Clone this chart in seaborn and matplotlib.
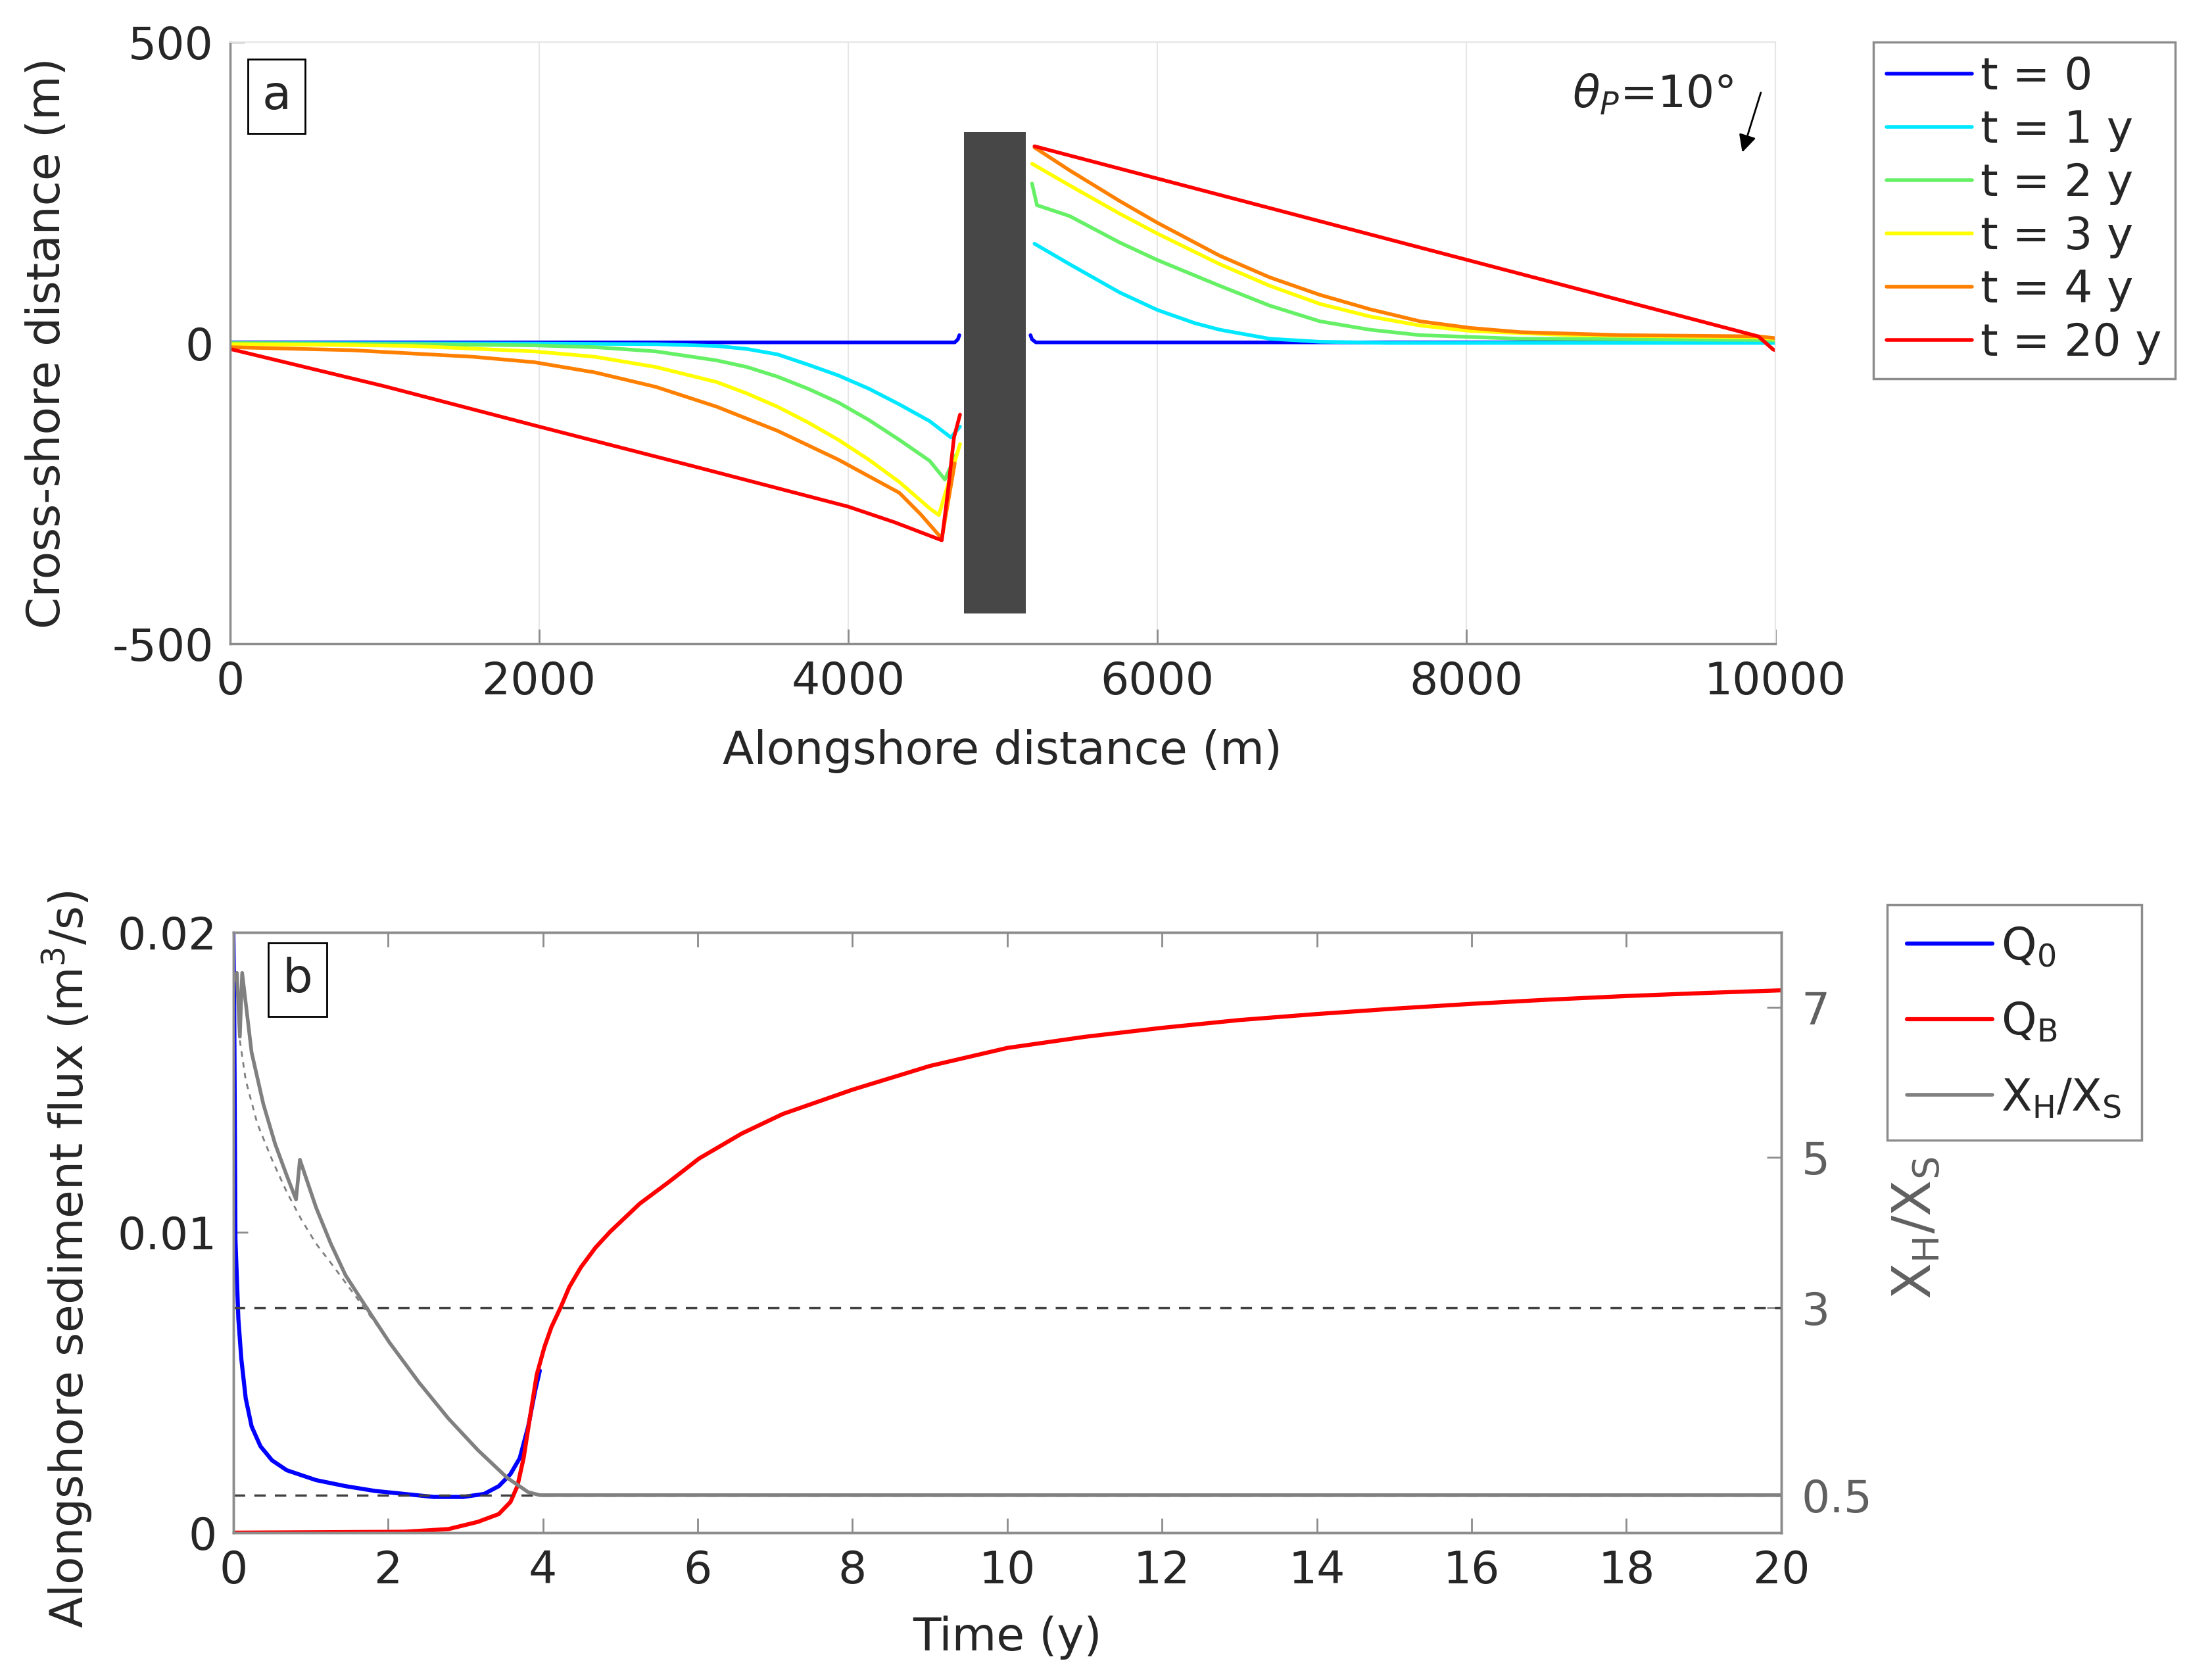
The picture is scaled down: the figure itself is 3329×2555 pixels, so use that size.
import matplotlib
matplotlib.use("Agg")
import matplotlib.pyplot as plt
import seaborn as sns

""" ================= Data ================= """
# panel a: shoreline position (m) left and right of the groin
shore_labels = ['t = 0', 't = 1 y', 't = 2 y', 't = 3 y', 't = 4 y', 't = 20 y']
shore_colors = ['#0000ff', '#00e8ff', '#66f066', '#ffff00', '#ff8000', '#ff0000']

t0_left_x = [0, 4690, 4710, 4720]
t0_left_y = [1, 1, 6, 13]
t1_left_x = [0, 2000, 2756, 3150, 3346, 3543, 3740, 3937, 4134, 4331, 4528, 4665, 4724]
t1_left_y = [0, -1, -2, -5, -10, -19, -36, -54, -76, -102, -130, -157, -139]
t2_left_x = [0, 1200, 1969, 2362, 2756, 3150, 3346, 3543, 3740, 3937, 4134, 4331,
             4528, 4626, 4700]
t2_left_y = [0, -2, -4, -7, -14, -29, -40, -56, -76, -99, -128, -161, -196, -227, -185]
t3_left_x = [0, 600, 1181, 1969, 2362, 2756, 3150, 3346, 3543, 3740, 3937, 4134,
             4331, 4528, 4587, 4724]
t3_left_y = [-2, -3, -5, -14, -23, -40, -65, -84, -106, -132, -161, -194, -231,
             -275, -286, -168]
t4_left_x = [0, 787, 1575, 1969, 2362, 2756, 3150, 3543, 3937, 4331, 4470, 4606, 4690]
t4_left_y = [-7, -12, -23, -32, -49, -73, -106, -146, -194, -249, -285, -325, -200]
t20_left_x = [0, 1000, 2000, 3000, 4000, 4300, 4606, 4646, 4685, 4724]
t20_left_y = [-10, -72, -139, -205, -272, -298, -328, -246, -157, -119]

t0_right_x = [5180, 5190, 5215, 10000]
t0_right_y = [13, 6, 1, 1]
t1_right_x = [5206, 5433, 5757, 6000, 6243, 6405, 6729, 7053, 7500, 10000]
t1_right_y = [165, 131, 84, 55, 33, 22, 7, 2, 0, 0]
t2_right_x = [5190, 5222, 5433, 5757, 6000, 6405, 6729, 7053, 7378, 7702, 8350, 9890, 10000]
t2_right_y = [265, 229, 211, 167, 138, 95, 62, 36, 22, 13, 7, 5, 4]
t3_right_x = [5190, 5433, 5757, 6000, 6405, 6729, 7053, 7378, 7702, 8026, 8674, 9890, 10000]
t3_right_y = [298, 262, 215, 182, 131, 95, 65, 44, 29, 20, 13, 9, 7]
t4_right_x = [5206, 5433, 5757, 6000, 6405, 6729, 7053, 7378, 7702, 8026, 8350, 9000,
              9890, 10000]
t4_right_y = [325, 287, 236, 200, 145, 109, 80, 56, 36, 25, 18, 13, 11, 8]
t20_right_x = [5206, 9890, 9987, 10000]
t20_right_y = [327, 11, -11, -12]

# groin
groin_x = [4750, 5150]
groin_bottom = -450
groin_top = 350

# panel b: fluxes (m3/s) and ratio XH/XS
time_q0 = [0, 0.01, 0.027, 0.065, 0.103, 0.16, 0.236, 0.35, 0.5, 0.69, 1.07, 1.45,
           1.83, 2.21, 2.59, 2.97, 3.24, 3.43, 3.58, 3.7, 3.81, 3.9, 3.96]
q0 = [0.02, 0.018, 0.00978, 0.00712, 0.00579, 0.00447, 0.00354, 0.00288, 0.00241,
      0.00208, 0.00175, 0.00155, 0.00139, 0.00129, 0.00119, 0.00119, 0.00129,
      0.00155, 0.00195, 0.00248, 0.00354, 0.00473, 0.0054]

time_qb = [0, 2.21, 2.78, 3.16, 3.43, 3.58, 3.67, 3.75, 3.83, 3.92, 4.02, 4.11, 4.23,
           4.34, 4.49, 4.68, 4.87, 5.25, 5.63, 6.02, 6.57, 7.1, 8.0, 9.0, 10, 11, 12,
           13, 14, 15, 16, 17, 18, 19, 20]
qb = [0, 0.00003, 0.00012, 0.00036, 0.00062, 0.00102, 0.00155, 0.00248, 0.0038,
      0.00526, 0.00619, 0.00685, 0.00751, 0.00818, 0.00884, 0.0095, 0.01003,
      0.01096, 0.01169, 0.01247, 0.0133, 0.01395, 0.01476, 0.01555, 0.01615, 0.01652,
      0.01682, 0.01708, 0.01728, 0.01746, 0.01762, 0.01776, 0.01788, 0.01798, 0.01807]

time_ratio = [0, 0.046, 0.084, 0.114, 0.236, 0.388, 0.54, 0.69, 0.81, 0.86, 1.07,
              1.26, 1.45, 1.72, 2.02, 2.4, 2.78, 3.16, 3.54, 3.81, 3.96, 20]
ratio = [7.35, 7.46, 6.61, 7.46, 6.4, 5.71, 5.18, 4.76, 4.44, 4.97, 4.33, 3.85,
         3.43, 3.0, 2.53, 2.0, 1.52, 1.1, 0.73, 0.54, 0.5, 0.5]

time_ratio_ref = [0.084, 0.16, 0.31, 0.5, 0.69, 0.88, 1.07, 1.3, 1.53, 1.76, 2.02]
ratio_ref = [6.56, 6.03, 5.45, 4.97, 4.54, 4.17, 3.85, 3.54, 3.22, 2.9, 2.53]

ratio_thresholds = [3, 0.5]

""" ================= Style ================= """
sns.set_theme(style="white")
plt.rcParams['font.family'] = ['DejaVu Sans']
plt.rcParams['mathtext.fontset'] = 'dejavusans'
plt.rcParams['axes.unicode_minus'] = False
plt.rcParams['lines.solid_joinstyle'] = 'round'

FS = 49
SPINE = '#8c8c8c'
GRAYTXT = '#606060'

fig = plt.figure(figsize=(33.29, 25.55), dpi=100)
ax1 = fig.add_axes([0.1051, 0.6168, 0.7059, 0.3581])
ax2 = fig.add_axes([0.1066, 0.0877, 0.7071, 0.3573])

""" ================= Panel a ================= """
left_x = [t0_left_x, t1_left_x, t2_left_x, t3_left_x, t4_left_x, t20_left_x]
left_y = [t0_left_y, t1_left_y, t2_left_y, t3_left_y, t4_left_y, t20_left_y]
right_x = [t0_right_x, t1_right_x, t2_right_x, t3_right_x, t4_right_x, t20_right_x]
right_y = [t0_right_y, t1_right_y, t2_right_y, t3_right_y, t4_right_y, t20_right_y]

for lx, ly, rx, ry, lab, col in zip(left_x, left_y, right_x, right_y,
                                    shore_labels, shore_colors):
    sns.lineplot(x=lx, y=ly, ax=ax1, color=col, lw=4, sort=False,
                 estimator=None, label=lab)
    sns.lineplot(x=rx, y=ry, ax=ax1, color=col, lw=4, sort=False,
                 estimator=None, label='_nolegend_')

ax1.fill_between(groin_x, groin_bottom, groin_top, color='#474747', lw=0, zorder=5)

ax1.set_xlim(0, 10000)
ax1.set_ylim(-500, 500)
ax1.set_xticks([0, 2000, 4000, 6000, 8000, 10000])
ax1.set_yticks([-500, 0, 500])
ax1.xaxis.grid(True, color='#e6e6e6', lw=1.5)
ax1.set_axisbelow(True)
for s in ['left', 'bottom']:
    ax1.spines[s].set_color(SPINE)
    ax1.spines[s].set_linewidth(2.5)
for s in ['top', 'right']:
    ax1.spines[s].set_color('#e6e6e6')
    ax1.spines[s].set_linewidth(1.5)
ax1.tick_params(direction='in', length=16, width=2, color=SPINE,
                labelsize=FS, pad=18, bottom=True, left=True)
ax1.set_xlabel('Alongshore distance (m)', fontsize=50)
ax1.set_ylabel('Cross-shore distance (m)', fontsize=50)
ax1.xaxis.set_label_coords(0.5, -0.142)
ax1.yaxis.set_label_coords(-0.104, 0.5)

ax1.text(300, 410, 'a', fontsize=52, ha='center', va='center', zorder=6,
         bbox=dict(boxstyle='square,pad=0.3', fc='white', ec='black', lw=2))
ax1.text(9729, 412, r'$\theta_P$=10°', ha='right', va='center', fontsize=FS)
ax1.annotate('', xy=(9783, 314), xytext=(9910, 419),
             arrowprops=dict(arrowstyle='-|>', color='black', lw=2,
                             mutation_scale=40))

ax1.legend(loc='upper left', bbox_to_anchor=(0.8558, 0.975),
           bbox_transform=fig.transFigure, borderaxespad=0, fontsize=FS,
           frameon=True, fancybox=False, edgecolor=SPINE, framealpha=1,
           handlelength=1.9, handletextpad=0.2, labelspacing=0.22,
           borderpad=0.3)
ax1.get_legend().get_frame().set_linewidth(2.5)

""" ================= Panel b ================= """
sns.lineplot(x=time_q0, y=q0, ax=ax2, color='#0000ff', lw=4.5, sort=False,
             estimator=None, label=r'Q$_\mathregular{0}$')
sns.lineplot(x=time_qb, y=qb, ax=ax2, color='#ff0000', lw=4.5, sort=False,
             estimator=None, label=r'Q$_\mathregular{B}$')

ax2r = ax2.twinx()
for thr in ratio_thresholds:
    ax2r.axhline(thr, color='#404040', lw=2.5, ls=(0, (5, 4)))
sns.lineplot(x=time_ratio_ref, y=ratio_ref, ax=ax2r, color='#808080', lw=2,
             ls=(0, (3, 3)), sort=False, estimator=None, label='_nolegend_')
sns.lineplot(x=time_ratio, y=ratio, ax=ax2r, color='#808080', lw=4, sort=False,
             estimator=None, label=r'X$_\mathregular{H}$/X$_\mathregular{S}$')

ax2.set_xlim(0, 20)
ax2.set_ylim(0, 0.02)
ax2.set_xticks(range(0, 21, 2))
ax2.set_yticks([0, 0.01, 0.02])
ax2.set_yticklabels(['0', '0.01', '0.02'])
ax2r.set_ylim(0, 8)
ax2r.set_yticks([0.5, 3, 5, 7])
ax2r.set_yticklabels(['0.5', '3', '5', '7'])

for a in [ax2, ax2r]:
    for s in a.spines.values():
        s.set_color(SPINE)
        s.set_linewidth(2.5)
ax2.tick_params(direction='in', length=16, width=2, color=SPINE,
                labelsize=FS, pad=18, top=True, bottom=True, left=True)
ax2r.tick_params(direction='in', length=16, width=2, color=SPINE,
                 labelsize=FS, pad=22, right=True, labelcolor=GRAYTXT)
ax2.set_xlabel('Time (y)', fontsize=50)
ax2.set_ylabel(r'Alongshore sediment flux (m$^\mathregular{3}$/s)', fontsize=50)
ax2.xaxis.set_label_coords(0.5, -0.138)
ax2.yaxis.set_label_coords(-0.09, 0.456)
ax2r.set_ylabel(r'X$_\mathregular{H}$/X$_\mathregular{S}$', fontsize=58,
                color=GRAYTXT)
ax2r.yaxis.set_label_coords(1.071, 0.507)

ax2r.text(0.83, 7.37, 'b', fontsize=52, ha='center', va='center', zorder=6,
          bbox=dict(boxstyle='square,pad=0.3', fc='white', ec='black', lw=2))

h1, l1 = ax2.get_legend_handles_labels()
h2, l2 = ax2r.get_legend_handles_labels()
if ax2.get_legend():
    ax2.get_legend().remove()
if ax2r.get_legend():
    ax2r.get_legend().remove()
leg = ax2r.legend(h1 + h2, l1 + l2, loc='upper left', bbox_to_anchor=(0.862, 0.4614),
                  bbox_transform=fig.transFigure, borderaxespad=0, fontsize=FS,
                  frameon=True, fancybox=False, edgecolor=SPINE, framealpha=1,
                  handlelength=1.9, handletextpad=0.2, labelspacing=0.72,
                  borderpad=0.45)
leg.get_frame().set_linewidth(2.5)

plt.savefig('out.png', dpi=100)
